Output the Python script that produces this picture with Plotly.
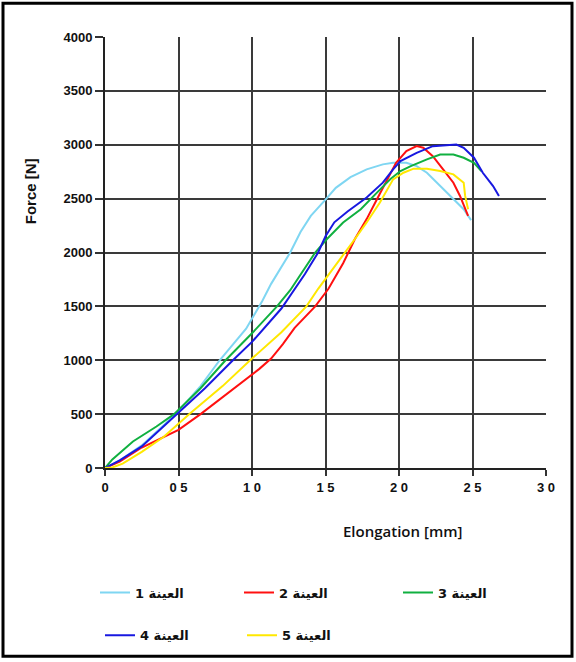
import plotly.graph_objects as go

# ---- data (Elongation [mm], Force [N]) ----
names = ["العينة 1", "العينة 2", "العينة 3", "العينة 4", "العينة 5"]
colors = ["#7fd6f2", "#ff1010", "#10b040", "#1818e0", "#ffe800"]

x1 = [0, 0.1, 0.25, 0.48, 0.65, 0.78, 0.96, 1.07, 1.13, 1.26, 1.33, 1.40, 1.50, 1.57, 1.67, 1.78, 1.89, 1.96, 2.05, 2.12, 2.19, 2.28, 2.37, 2.44, 2.49]
y1 = [0, 70, 210, 500, 760, 1000, 1293, 1550, 1709, 2000, 2190, 2340, 2490, 2600, 2700, 2771, 2818, 2833, 2833, 2802, 2740, 2617, 2494, 2402, 2300]

x2 = [0, 0.1, 0.25, 0.5, 0.65, 0.96, 1.05, 1.13, 1.21, 1.29, 1.36, 1.43, 1.52, 1.62, 1.70, 1.78, 1.85, 1.92, 1.98, 2.05, 2.12, 2.165, 2.23, 2.30, 2.37, 2.415, 2.45, 2.47]
y2 = [0, 60, 190, 354, 500, 831, 920, 1016, 1150, 1300, 1400, 1500, 1663, 1900, 2125, 2310, 2494, 2679, 2833, 2941, 2987, 2972, 2894, 2771, 2648, 2525, 2402, 2340]

x3 = [0, 0.05, 0.19, 0.35, 0.47, 0.65, 0.82, 1.0, 1.17, 1.26, 1.43, 1.51, 1.62, 1.74, 1.85, 1.94, 2.01, 2.08, 2.19, 2.28, 2.37, 2.44, 2.51, 2.56]
y3 = [0, 80, 246, 385, 500, 740, 1000, 1250, 1500, 1650, 2000, 2125, 2279, 2402, 2556, 2679, 2756, 2802, 2864, 2910, 2910, 2879, 2833, 2756]

x4 = [0, 0.1, 0.25, 0.49, 0.68, 0.87, 1.0, 1.2, 1.28, 1.36, 1.45, 1.50, 1.56, 1.65, 1.78, 1.89, 1.96, 2.01, 2.12, 2.23, 2.39, 2.44, 2.51, 2.57, 2.64, 2.68]
y4 = [0, 70, 200, 500, 740, 1000, 1170, 1480, 1640, 1800, 2000, 2150, 2280, 2380, 2510, 2648, 2771, 2848, 2925, 2987, 3002, 2972, 2880, 2740, 2617, 2525]

x5 = [0, 0.05, 0.12, 0.25, 0.4, 0.58, 0.8, 1.0, 1.2, 1.37, 1.45, 1.58, 1.70, 1.78, 1.87, 1.96, 2.03, 2.10, 2.19, 2.28, 2.37, 2.44, 2.45, 2.47]
y5 = [0, 5, 40, 150, 290, 508, 760, 1016, 1260, 1500, 1663, 1900, 2125, 2279, 2464, 2679, 2740, 2778, 2778, 2756, 2725, 2648, 2525, 2402]

x_tickvals = [0, 0.5, 1.0, 1.5, 2.0, 2.5, 3.0]
x_ticktext = ["0", "0 5", "1 0", "1 5", "2 0", "2 5", "3 0"]
y_tickvals = [0, 500, 1000, 1500, 2000, 2500, 3000, 3500, 4000]

xs = [x1, x2, x3, x4, x5]
ys = [y1, y2, y3, y4, y5]
legend_ids = ["legend", "legend", "legend3", "legend2", "legend2"]

fig = go.Figure()
for n, c, xx, yy, lg in zip(names, colors, xs, ys, legend_ids):
    fig.add_trace(go.Scatter(x=xx, y=yy, mode="lines", name=n,
                             line=dict(color=c, width=2), legend=lg))

tick_font = dict(family="Liberation Sans", size=13, color="#111", weight="bold")
legend_font = dict(family="DejaVu Sans", size=13, color="#111", weight="bold")

def pxx(p):
    return (p - 105) / 441

def pxy(p):
    return (470 - p) / 433

common_leg = dict(orientation="h", xanchor="left", yanchor="top",
                  entrywidthmode="pixels", font=legend_font,
                  bgcolor="rgba(0,0,0,0)", itemwidth=30)

fig.update_layout(
    width=576, height=662,
    margin=dict(l=105, r=30, t=37, b=192),
    paper_bgcolor="white", plot_bgcolor="white",
    xaxis=dict(range=[0, 3.0], tickvals=x_tickvals, ticktext=x_ticktext,
               showgrid=True, gridcolor="#3a3a3a", gridwidth=1.5,
               showline=True, linecolor="#222", linewidth=2,
               ticks="outside", ticklen=6, tickcolor="#333", tickwidth=1.5,
               tickfont=tick_font, zeroline=False),
    yaxis=dict(range=[0, 4000], tickvals=y_tickvals,
               showgrid=True, gridcolor="#3a3a3a", gridwidth=1.5,
               showline=True, linecolor="#222", linewidth=2,
               ticks="outside", ticklen=8, tickcolor="#333", tickwidth=1.5,
               tickfont=tick_font, zeroline=False),
    legend=dict(common_leg, x=pxx(95), y=pxy(580), entrywidth=99),
    legend3=dict(common_leg, x=pxx(398), y=pxy(580), entrywidth=99),
    legend2=dict(common_leg, x=pxx(100), y=pxy(623), entrywidth=97),
    annotations=[
        dict(text="Elongation [mm]", xref="paper", yref="paper",
             x=pxx(402), y=pxy(533), xanchor="center", yanchor="middle",
             showarrow=False, font=dict(family="Open Sans", size=15, color="#111", weight=600)),
        dict(text="Force [N]", xref="paper", yref="paper", textangle=-90,
             x=pxx(30), y=pxy(192), xanchor="center", yanchor="middle",
             showarrow=False, font=dict(family="Liberation Sans", size=15, color="#111", weight="bold")),
    ],
    shapes=[
        dict(type="rect", xref="paper", yref="paper",
             x0=pxx(3), x1=pxx(572), y0=pxy(659), y1=pxy(3),
             line=dict(color="black", width=3), fillcolor="rgba(0,0,0,0)", layer="below"),
    ],
)

fig.write_html("out.html")
